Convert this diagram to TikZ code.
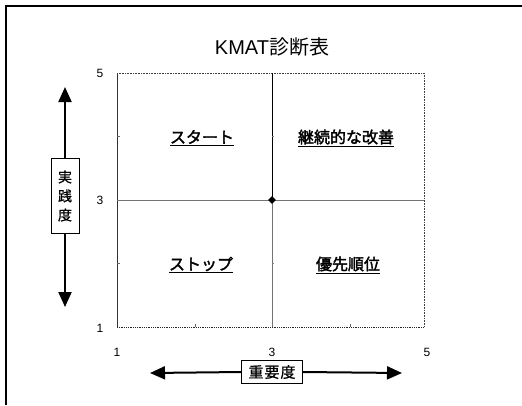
\documentclass[tikz,border=0pt]{standalone}
\usepackage{fontspec}
\setmainfont{Liberation Sans}
\newfontfamily\cjk{Noto Sans CJK JP}
\newfontfamily\cjkb[FakeBold=2]{Noto Sans CJK JP}
\newfontfamily\cjkm[FakeBold=1]{Noto Sans CJK JP}
\usetikzlibrary{arrows.meta,shapes.geometric}
\begin{document}
\begin{tikzpicture}[x=1pt,y=-1pt,
  num/.style={font=\fontsize{12}{12}\selectfont, inner sep=0pt},
  quad/.style={font=\cjkb\fontsize{16}{16}\selectfont, inner sep=0pt},
  axbox/.style={draw, line width=0.8pt, fill=white, inner sep=2pt},
  bigarrow/.style={line width=2pt, -{Triangle[width=13pt,length=15pt]}},
  grid/.style={line width=0.7pt, black!55}]
\useasboundingbox (0,0) rectangle (522,405);
% outer frame (cut off at right and bottom)
\draw[line width=1.3pt] (6,405) -- (6,6) -- (522,6);
% title
\node (title) at (272,47) {\fontsize{20}{20}\selectfont KMAT\cjk 診断表};
% plot area
\coordinate (tl) at (117,73);
\coordinate (tr) at (424,73);
\coordinate (bl) at (117,327);
\coordinate (br) at (424,327);
\coordinate (c) at (272,200);
\draw[line width=0.8pt, black!80] (tl) -- (bl);
\draw[line width=0.8pt, densely dotted, black!85] (bl) -- (br);
\draw[line width=0.6pt, densely dotted, black!75] (tl) -- (tr) -- (br);
\draw[grid] (117,200) -- (424,200);
\draw[line width=0.8pt, black] (272,73) -- (c);
\draw[grid] (c) -- (272,327);
% ticks
\foreach \yy in {136,263} \draw[black!60, line width=0.5pt] (117,\yy) -- (120,\yy);
\foreach \xx in {195,350} \draw[black!60, line width=0.5pt] (\xx,327) -- (\xx,324);
\foreach \yy in {136,263} \draw[black!50, line width=0.5pt] (272,\yy) -- (274,\yy);
\node[diamond, fill=black, inner sep=0pt, minimum width=8pt, minimum height=8pt] (cd) at (c) {};
% axis numbers
\node[num] (y5) at (100,73) {5};
\node[num] (y3) at (100,200) {3};
\node[num] (y1) at (100,328) {1};
\node[num] (x1) at (117,352) {1};
\node[num] (x3) at (272,352) {3};
\node[num] (x5) at (427,352) {5};
% quadrant labels
\node[quad] (q1) at (202,138) {\underline{スタート}};
\node[quad] (q2) at (346,138) {\underline{継続的な改善}};
\node[quad] (q3) at (201,265) {\underline{ストップ}};
\node[quad] (q4) at (348,265) {\underline{優先順位}};
% vertical axis
\node[axbox, minimum width=28pt, minimum height=75pt, font=\cjkm\fontsize{14}{19}\selectfont, align=center] (yax) at (65,196) {実\\践\\度};
\coordinate (ytop) at (65,87);
\coordinate (ybot) at (65,307);
\draw[bigarrow] (yax.north) -- (ytop);
\draw[bigarrow] (yax.south) -- (ybot);
% horizontal axis
\node[axbox, minimum width=61pt, minimum height=23pt, font=\cjkm\fontsize{15}{15}\selectfont] (xax) at (272,372) {重\hspace{1pt}要\hspace{1pt}度};
\coordinate (xleft) at (150,373);
\coordinate (xright) at (402,373);
\draw[bigarrow] (xax.west) -- (xleft);
\draw[bigarrow] (xax.east) -- (xright);
\end{tikzpicture}
\end{document}
